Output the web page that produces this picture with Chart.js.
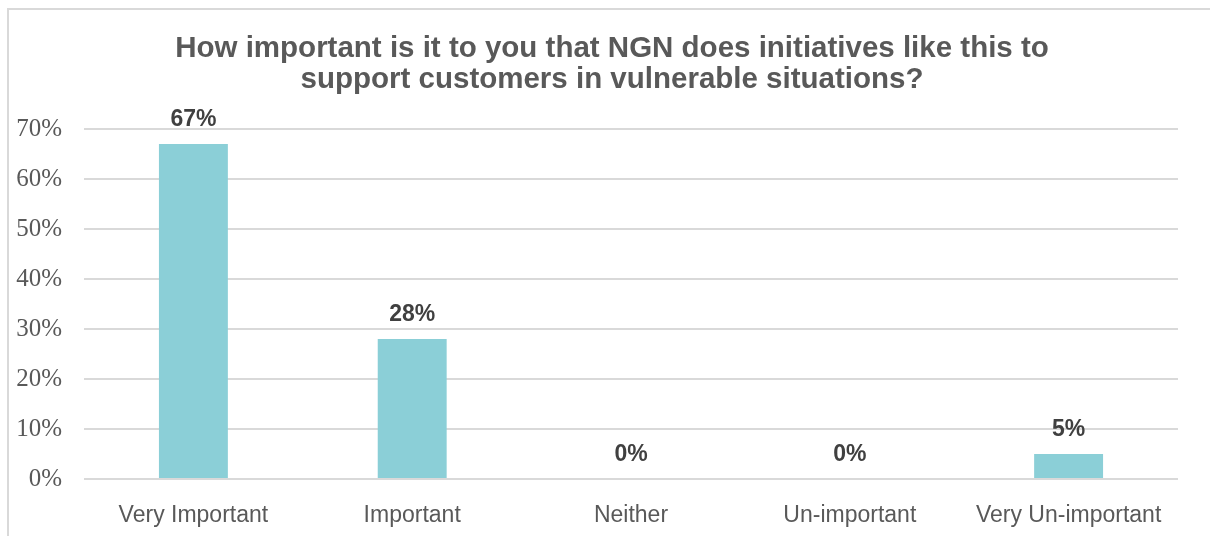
<!DOCTYPE html>
<html>
<head>
<meta charset="utf-8">
<title>NGN survey</title>
<script src="https://cdn.jsdelivr.net/npm/chart.js@4.4.1/dist/chart.umd.min.js"></script>
<style>
    html, body { margin: 0; padding: 0; background: #fff; }
    #wrap { width: 1210px; height: 536px; }
</style>
</head>
<body>
<div id="wrap"><canvas id="myChart"></canvas></div>
<script>
var categories = ['Very Important', 'Important', 'Neither', 'Un-important', 'Very Un-important'];
var percents = [67, 28, 0, 0, 5];
var yTicks = [0, 10, 20, 30, 40, 50, 60, 70];
var titleLines = [
    'How important is it to you that NGN does initiatives like this to',
    'support customers in vulnerable situations?'
];

var sans = "'Liberation Sans', Arial, sans-serif";
var serif = "'Liberation Serif', Cambria, serif";

// thin grey frame along the top and left edge
var framePlugin = {
    id: 'frame',
    beforeDraw: function (chart) {
        var ctx = chart.ctx;
        ctx.save();
        ctx.fillStyle = '#d9d9d9';
        ctx.fillRect(7, 8, chart.width - 7, 2);
        ctx.fillRect(7, 8, 2, chart.height - 8);
        ctx.restore();
    }
};

// bold percentage over every bar
var valueLabels = {
    id: 'valueLabels',
    afterDatasetsDraw: function (chart) {
        var ctx = chart.ctx;
        var meta = chart.getDatasetMeta(0);
        ctx.save();
        ctx.font = 'bold 23px ' + sans;
        ctx.fillStyle = '#404040';
        ctx.textAlign = 'center';
        ctx.textBaseline = 'middle';
        meta.data.forEach(function (bar, i) {
            ctx.fillText(percents[i] + '%', bar.x, bar.y - 24);
        });
        ctx.restore();
    }
};

var ctx = document.getElementById('myChart');
var myChart = new Chart(ctx, {
    type: 'bar',
    data: {
        labels: categories,
        datasets: [{
            data: percents,
            backgroundColor: '#8bcfd7',
            borderWidth: 0,
            categoryPercentage: 1,
            barPercentage: 0.315
        }]
    },
    options: {
        responsive: true,
        maintainAspectRatio: false,
        animation: false,
        layout: {
            padding: { left: 14, right: 0, top: 0, bottom: 0 }
        },
        plugins: {
            legend: { display: false },
            tooltip: { enabled: false },
            title: {
                display: true,
                text: titleLines,
                color: '#595959',
                font: { family: sans, size: 29.5, weight: 'bold', lineHeight: '31px' },
                padding: { top: 33, bottom: 34 }
            }
        },
        scales: {
            x: {
                grid: { display: false },
                border: { display: false },
                ticks: {
                    color: '#595959',
                    font: { family: sans, size: 23 },
                    padding: 15,
                    maxRotation: 0,
                    autoSkip: false
                },
                afterFit: function (scale) {
                    scale.height = 57;
                }
            },
            y: {
                min: 0,
                max: 70,
                border: { display: false },
                grid: {
                    color: '#d9d9d9',
                    lineWidth: 2,
                    drawTicks: false
                },
                ticks: {
                    color: '#595959',
                    font: { family: serif, size: 25 },
                    padding: 22,
                    callback: function (v) { return v + '%'; }
                },
                afterBuildTicks: function (scale) {
                    scale.ticks = yTicks.map(function (v) { return { value: v }; });
                },
                afterFit: function (scale) {
                    scale.width = 70;
                }
            },
            // empty strip on the right so the plot stops short of the edge
            side: {
                position: 'right',
                grid: { display: false },
                border: { display: false },
                ticks: { display: false },
                afterFit: function (scale) {
                    scale.width = 32;
                }
            }
        }
    },
    plugins: [framePlugin, valueLabels]
});
</script>
</body>
</html>
